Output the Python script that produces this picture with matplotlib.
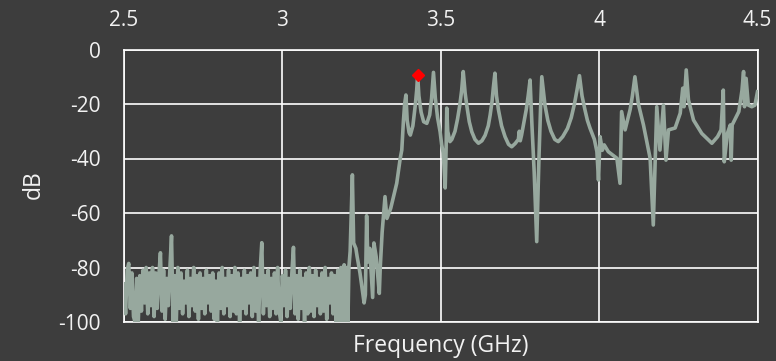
import matplotlib
matplotlib.use("Agg")
import matplotlib.pyplot as plt
import numpy as np

# --- data -------------------------------------------------------------------
# noise floor below ~3.17 GHz, sampled every 5 MHz from 2.500 GHz
noise_start, noise_step = 2.5, 0.005
noise_db = [
    -86, -97, -81, -78.5, -95, -82, -98, -100, -84, -100,
    -83, -96, -81, -93, -80, -97, -82, -94, -80, -98,
    -82, -95, -83, -74.6, -96, -81, -99, -84, -94, -80,
    -68.4, -100, -83, -100, -80, -95, -82, -97, -85, -93,
    -81, -98, -84, -94, -80, -96, -83, -99, -82, -95,
    -84, -97, -81, -93, -83, -96, -82, -99, -85, -100,
    -82, -95, -80, -97, -84, -94, -81, -98, -83, -96,
    -80, -97, -82, -100, -84, -95, -81, -97, -83, -93,
    -82, -98, -80, -96, -84, -100, -81, -70.9, -97, -83,
    -94, -81, -98, -84, -95, -82, -97, -80, -96, -100,
    -83, -94, -81, -98, -84, -95, -82, -72.6, -97, -83,
    -99, -81, -95, -84, -100, -82, -97, -80, -96, -83,
    -98, -81, -94, -84, -97, -82, -96, -80, -99, -84,
    -93, -82, -97, -83,
]

# resonance region (GHz, dB)
res_freq = [
    3.170, 3.175, 3.180, 3.185, 3.190, 3.195, 3.200, 3.203, 3.207, 3.210,
    3.214, 3.221, 3.225, 3.232, 3.236, 3.245, 3.258, 3.262, 3.266, 3.270,
    3.276, 3.285, 3.289, 3.296, 3.306, 3.309, 3.315, 3.324, 3.330, 3.342,
    3.361, 3.372, 3.377, 3.382, 3.386, 3.390, 3.394, 3.400, 3.404, 3.412,
    3.420, 3.424, 3.427, 3.431, 3.438, 3.446, 3.456, 3.465, 3.471, 3.477,
    3.483, 3.490, 3.498, 3.503, 3.508, 3.514, 3.517, 3.519, 3.522, 3.529,
    3.535, 3.545, 3.553, 3.560, 3.566, 3.571, 3.577, 3.582, 3.590, 3.598,
    3.608, 3.619, 3.630, 3.640, 3.650, 3.656, 3.662, 3.666, 3.671, 3.676,
    3.682, 3.692, 3.703, 3.714, 3.724, 3.735, 3.745, 3.748, 3.751, 3.755,
    3.762, 3.770, 3.776, 3.782, 3.788, 3.795, 3.803, 3.810, 3.815, 3.819,
    3.829, 3.838, 3.848, 3.860, 3.871, 3.885, 3.900, 3.912, 3.922, 3.930,
    3.938, 3.946, 3.955, 3.963, 3.971, 3.985, 3.993, 3.998, 4.003, 4.010,
    4.016, 4.029, 4.056, 4.066, 4.071, 4.082, 4.098, 4.105, 4.113, 4.124,
    4.140, 4.161, 4.171, 4.182, 4.192, 4.203, 4.211, 4.219, 4.240, 4.256,
    4.264, 4.268, 4.275, 4.282, 4.298, 4.324, 4.356, 4.374, 4.385, 4.392,
    4.395, 4.405, 4.414, 4.417, 4.420, 4.441, 4.451, 4.456, 4.459, 4.464,
    4.471, 4.482, 4.492, 4.500,
]
res_db = [
    -100, -81, -100, -80, -100, -79, -100, -80, -100, -80,
    -74, -46, -71, -73, -76, -82, -93, -90, -61, -78,
    -73, -91, -71, -76, -89.5, -80, -67, -54, -62, -58.3,
    -49.1, -40, -36.9, -26.5, -20, -16.7, -26, -30.5, -31.4, -28,
    -20, -15, -9.4, -17, -23, -26.5, -27.1, -24, -18, -8.4,
    -18, -25, -30.2, -35, -38, -50.8, -36, -21.5, -30, -33.8,
    -33, -30, -25.5, -20.5, -15, -8.1, -16, -20.4, -26.5, -30.2,
    -33, -34.4, -33.5, -31.5, -28, -24, -19, -14, -8.7, -17,
    -22, -28, -32, -34.8, -35.7, -34.5, -33, -30, -33.5, -31.5,
    -27, -22, -17, -11.2, -28, -45, -70.5, -40, -22, -10,
    -20.4, -26, -30, -33, -33.8, -32, -29, -25, -20, -15,
    -9.6, -17, -22, -26, -28.8, -33, -37.5, -47.9, -32, -37,
    -35, -37.5, -39.9, -49.1, -22.8, -29.5, -22, -17, -10, -20,
    -27.7, -39.9, -64.4, -21, -36.9, -20.4, -40.6, -29.5, -28.8, -23.4,
    -14.2, -21, -7.5, -18.5, -25.9, -30.8, -34.4, -32, -29.5, -14.9,
    -41.2, -30.8, -27.7, -40.6, -27.7, -22.8, -15, -8.1, -21, -10.6,
    -20.4, -21, -20.4, -15.5,
]

marker_freq = 3.427
marker_db = -9.4

x_ticks = [2.5, 3, 3.5, 4, 4.5]
x_tick_labels = ["2.5", "3", "3.5", "4", "4.5"]
y_ticks = [0, -20, -40, -60, -80, -100]

# --- plot --------------------------------------------------------------------
bg = "#3d3d3d"
txt = "#f2f2f2"
trace = "#97a89e"
fs = 15          # tick labels
fs_title = 16.5  # axis titles

plt.rcParams["font.family"] = ["Open Sans", "DejaVu Sans"]
plt.rcParams["axes.unicode_minus"] = False

noise_freq = noise_start + noise_step * np.arange(len(noise_db))
freq = np.concatenate([noise_freq, res_freq])
db = np.concatenate([noise_db, res_db])

fig = plt.figure(figsize=(7.76, 3.61), dpi=100, facecolor=bg)
ax = fig.add_axes([124 / 776, 1 - 322 / 361, (757.5 - 124) / 776, (322 - 49.5) / 361])
ax.set_facecolor(bg)

ax.plot(freq, db, color=trace, linewidth=2.6, solid_joinstyle="round", zorder=3)
ax.plot([marker_freq], [marker_db], marker="D", color="#ff0000", markersize=6.5,
        linestyle="None", zorder=4)

ax.set_xlim(2.5, 4.5)
ax.set_ylim(-100, 0)
ax.set_xticks(x_ticks)
ax.set_xticklabels(x_tick_labels)
ax.set_yticks(y_ticks)
ax.xaxis.tick_top()
ax.tick_params(axis="both", length=0, colors=txt, labelsize=fs)
ax.tick_params(axis="x", pad=13)
ax.tick_params(axis="y", pad=17)

ax.grid(True, color="white", linewidth=1.2, zorder=1)
ax.set_axisbelow(True)
for s in ax.spines.values():
    s.set_color("white")
    s.set_linewidth(1.2)

fig.text(34 / 776, 1 - 185 / 361, "dB", color=txt, fontsize=fs_title, rotation=90,
         ha="center", va="center")
fig.text(441 / 776, 1 - 351.5 / 361, "Frequency (GHz)", color=txt,
         fontsize=fs_title, ha="center", va="baseline")

fig.savefig("out.png", dpi=100, facecolor=bg)
